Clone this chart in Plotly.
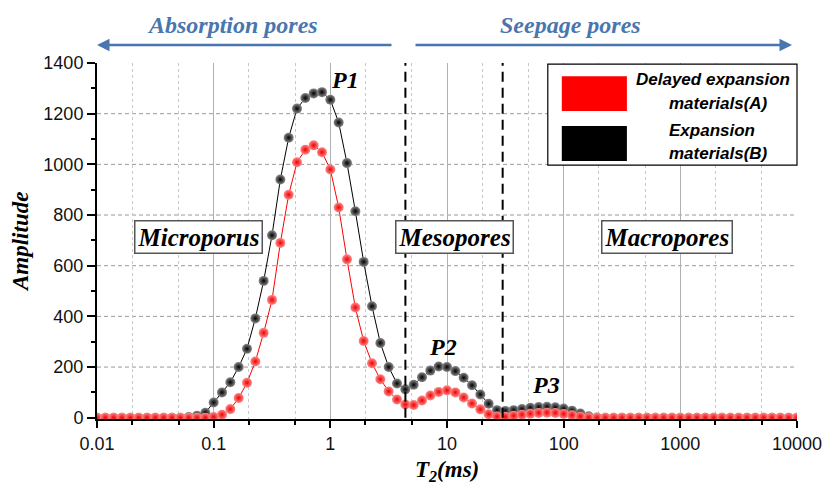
import plotly.graph_objects as go

# ---- data ----
T2_MANTISSA = [1, 1.179, 1.389, 1.638, 1.931, 2.276, 2.683, 3.162, 3.728, 4.394, 5.179, 6.105, 7.197, 8.483]
DECADES = [0.01, 0.1, 1, 10, 100, 1000]
T2 = [d * m for d in DECADES for m in T2_MANTISSA] + [10000]

AMP_B = [0] * 11 + [3, 8, 20, 60, 100, 140, 200, 272, 392, 540,
                    720, 940, 1105, 1220, 1262, 1280, 1285, 1255, 1165, 1005,
                    815, 615, 440, 295, 200, 135, 112, 130, 160, 186,
                    202, 200, 184, 158, 128, 92, 55, 30, 27, 30,
                    34, 39, 42, 43, 41, 36, 28, 17, 6, 1] + [0] * 24
AMP_A = [0] * 14 + [3, 12, 34, 78, 138, 222, 335, 465, 690, 880,
                    1008, 1058, 1075, 1048, 980, 830, 625, 435, 303, 215,
                    152, 104, 72, 52, 50, 68, 88, 102, 108, 100,
                    80, 56, 33, 14, 5, 4, 8, 12, 16, 19,
                    20, 19, 15, 10, 5, 1] + [0] * 25

X_TICKS = [0.01, 0.1, 1, 10, 100, 1000, 10000]
X_TICKTEXT = ["0.01", "0.1", "1", "10", "100", "1000", "10000"]
Y_TICKS = [0, 200, 400, 600, 800, 1000, 1200, 1400]
Y_GRID = [200, 400, 600, 800, 1000, 1200]
BOUNDARIES = [4.4, 30]

SERIF = "Liberation Serif"
SANS = "Liberation Sans"
BLUE = "#4a76b0"

fig = go.Figure()
fig.add_trace(go.Scatter(
    x=T2, y=AMP_B, mode="lines+markers", name="Expansion materials(B)",
    line=dict(color="black", width=1),
    marker=dict(size=10, color="#8a8a8a", gradient=dict(type="radial", color="#000000"),
                line=dict(width=0)),
    showlegend=False))
fig.add_trace(go.Scatter(
    x=T2, y=AMP_A, mode="lines+markers", name="Delayed expansion materials(A)",
    line=dict(color="#ff0000", width=1),
    marker=dict(size=10, color="#ff8a8a", gradient=dict(type="radial", color="#f00000"),
                line=dict(width=0)),
    showlegend=False))

shapes = []
for g in Y_GRID:
    shapes.append(dict(type="line", xref="paper", yref="y", x0=0, x1=1, y0=g, y1=g,
                       line=dict(color="#9a9a9a", width=1, dash="4px,3px"), layer="below"))
for b in BOUNDARIES:
    shapes.append(dict(type="line", xref="x", yref="y", x0=b, x1=b, y0=0, y1=1400,
                       line=dict(color="black", width=2, dash="10px,6px")))
# legend box
shapes.append(dict(type="rect", xref="paper", yref="paper", x0=0.644, x1=1.0, y0=0.713, y1=0.997,
                   line=dict(color="black", width=1.2), fillcolor="white"))
shapes.append(dict(type="rect", xref="paper", yref="paper", x0=0.664, x1=0.757, y0=0.865, y1=0.963,
                   line=dict(width=0), fillcolor="#ff0000"))
shapes.append(dict(type="rect", xref="paper", yref="paper", x0=0.664, x1=0.757, y0=0.725, y1=0.823,
                   line=dict(width=0), fillcolor="#000000"))

def pos(px, py):
    return (px - 97) / 700, (419 - py) / 356

ann = []
def text(px, py, s, font, size, color="black", **kw):
    x, y = pos(px, py)
    ann.append(dict(x=x, y=y, xref="paper", yref="paper", text=s, showarrow=False,
                    xanchor="center", yanchor="middle",
                    font=dict(family=font, size=size, color=color), **kw))

# legend text
text(713, 80, "<b><i>Delayed expansion</i></b>", SANS, 17)
text(718, 103, "<b><i>materials(A)</i></b>", SANS, 17)
text(712, 130, "<b><i>Expansion</i></b>", SANS, 17)
text(718, 153, "<b><i>materials(B)</i></b>", SANS, 17)

# headers
text(232, 25, "<b><i>Absorption pores</i></b>", SERIF, 24, BLUE)
text(570, 25, "<b><i>Seepage pores</i></b>", SERIF, 24, BLUE)

# arrows
x0, y0 = pos(97, 45)
ann.append(dict(x=x0, y=y0, xref="paper", yref="paper", ax=296, ay=0, text="",
                showarrow=True, arrowhead=2, arrowsize=1, arrowwidth=2.5, arrowcolor=BLUE))
x1, y1 = pos(792, 45)
ann.append(dict(x=x1, y=y1, xref="paper", yref="paper", ax=-378, ay=0, text="",
                showarrow=True, arrowhead=2, arrowsize=1, arrowwidth=2.5, arrowcolor=BLUE))

# region labels
box = dict(bordercolor="#555555", borderwidth=1.5, borderpad=2, bgcolor="white")
text(198, 237, "<b><i>Microporus</i></b>", SERIF, 25, **box)
text(454, 237, "<b><i>Mesopores</i></b>", SERIF, 25, **box)
text(667, 237, "<b><i>Macropores</i></b>", SERIF, 25, **box)

# peak labels
text(345, 80, "<b><i>P1</i></b>", SERIF, 24)
text(443, 347, "<b><i>P2</i></b>", SERIF, 24)
text(546, 385, "<b><i>P3</i></b>", SERIF, 24)

# axis titles
text(20, 242, "<b><i>Amplitude</i></b>", SERIF, 23, textangle=-90)
text(447, 471, "<b><i>T<sub>2</sub>(ms)</i></b>", SERIF, 23)

fig.update_layout(
    width=826, height=486,
    margin=dict(l=97, r=29, t=63, b=67),
    paper_bgcolor="white", plot_bgcolor="white",
    shapes=shapes, annotations=ann,
    xaxis=dict(type="log", range=[-2, 4], tickvals=X_TICKS, ticktext=X_TICKTEXT,
               automargin=False,
               showline=True, linecolor="black", linewidth=2, ticks="outside", ticklen=7,
               tickwidth=1.5, tickcolor="black",
               tickfont=dict(family=SANS, size=18, color="#111"),
               showgrid=True, gridcolor="#b0b0b0", gridwidth=1,
               minor=dict(ticks="outside", ticklen=4, tickcolor="black", showgrid=True,
                          griddash="dot", gridcolor="#c8c8c8"),
               zeroline=False),
    yaxis=dict(range=[-5, 1400], tickvals=Y_TICKS, showline=True, linecolor="black", linewidth=2,
               automargin=False,
               ticks="outside", ticklen=8, tickwidth=1.5, tickcolor="black",
               tickfont=dict(family=SANS, size=18, color="#111"),
               showgrid=False, zeroline=False,
               minor=dict(ticks="outside", ticklen=4, tickcolor="black", dtick=100)),
)

fig.write_html("out.html")
